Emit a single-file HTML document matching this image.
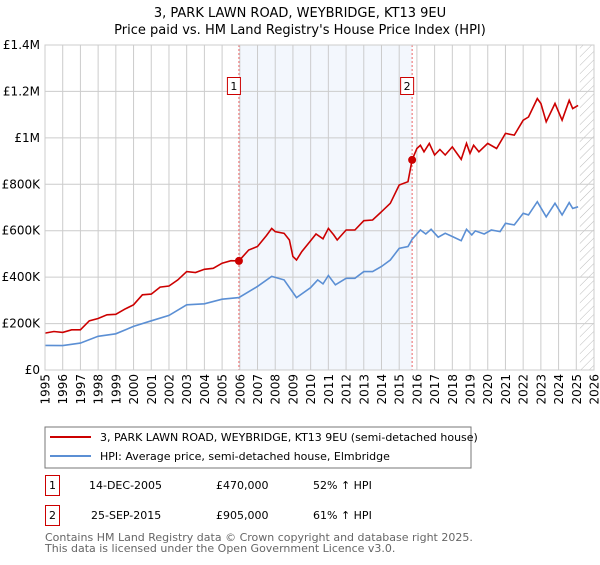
<!DOCTYPE html>
<html><head><meta charset="utf-8"><style>
body{margin:0;background:#fff;font-family:"Liberation Sans","DejaVu Sans",sans-serif}
svg text{font-family:"DejaVu Sans","Liberation Sans",sans-serif}
</style></head><body>
<svg width="600" height="560" xmlns="http://www.w3.org/2000/svg" id="svg">
<defs><pattern id="hatch" width="6" height="6" patternUnits="userSpaceOnUse" patternTransform="rotate(45)"><line x1="0" y1="0" x2="0" y2="6" stroke="#bbb" stroke-width="1"/></pattern></defs>
<text x="300" y="17" text-anchor="middle" font-size="13">3, PARK LAWN ROAD, WEYBRIDGE, KT13 9EU</text>
<text x="300" y="34" text-anchor="middle" font-size="13">Price paid vs. HM Land Registry's House Price Index (HPI)</text>
<g id="plot"></g>
<rect x="45" y="427" width="426" height="41" fill="#fff" stroke="#777"/>
<line x1="50" y1="437" x2="91" y2="437" stroke="#cc0000" stroke-width="2"/>
<text x="100" y="441" font-size="11">3, PARK LAWN ROAD, WEYBRIDGE, KT13 9EU (semi-detached house)</text>
<line x1="50" y1="456" x2="91" y2="456" stroke="#5b8fd4" stroke-width="2"/>
<text x="100" y="460" font-size="11">HPI: Average price, semi-detached house, Elmbridge</text>
<g font-size="11">
<rect x="45.5" y="475.5" width="14" height="20" fill="#fff" stroke="#cc0000"/><text x="52.5" y="489" text-anchor="middle">1</text>
<text x="89" y="489">14-DEC-2005</text><text x="216" y="489">£470,000</text><text x="313" y="489">52% ↑ HPI</text></g>
<g font-size="11">
<rect x="45.5" y="505.5" width="14" height="20" fill="#fff" stroke="#cc0000"/><text x="52.5" y="519" text-anchor="middle">2</text>
<text x="91" y="519">25-SEP-2015</text><text x="216" y="519">£905,000</text><text x="313" y="519">61% ↑ HPI</text></g>
<text x="45" y="541" font-size="11" fill="#666">Contains HM Land Registry data © Crown copyright and database right 2025.</text>
<text x="45" y="552" font-size="11" fill="#666">This data is licensed under the Open Government Licence v3.0.</text>
</svg>
<script>
const redT=[1995,1995.5,1996,1996.5,1997,1997.5,1998,1998.5,1999,1999.5,2000,2000.5,2001,2001.5,2002,2002.5,2003,2003.5,2004,2004.5,2005,2005.5,2005.95,2006.5,2007,2007.5,2007.8,2008,2008.5,2008.8,2009,2009.2,2009.5,2010,2010.3,2010.7,2011,2011.3,2011.5,2012,2012.5,2013,2013.5,2014,2014.5,2015,2015.5,2015.73,2016,2016.2,2016.4,2016.7,2017,2017.3,2017.6,2018,2018.5,2018.8,2019,2019.2,2019.5,2020,2020.5,2021,2021.5,2022,2022.3,2022.8,2023,2023.3,2023.8,2024.2,2024.6,2024.8,2025.1];
const redV=[159,166,162,173,173,212,222,238,240,262,281,324,327,357,362,388,424,420,434,438,460,471,470,517,532,579,610,596,589,560,489,474,510,557,586,565,610,582,560,603,603,643,646,682,718,797,811,905,954,968,940,976,926,950,926,961,907,976,933,968,940,976,954,1019,1012,1076,1090,1169,1148,1069,1148,1076,1162,1126,1140];
const hpiT=[1995,1996,1997,1998,1999,2000,2001,2002,2003,2004,2005,2005.95,2007,2007.8,2008.5,2009.2,2010,2010.4,2010.7,2011,2011.4,2012,2012.5,2013,2013.5,2014,2014.5,2015,2015.5,2015.73,2016.2,2016.5,2016.8,2017.2,2017.6,2018,2018.5,2018.8,2019.1,2019.3,2019.8,2020.2,2020.7,2021,2021.5,2022,2022.3,2022.8,2023.3,2023.8,2024.2,2024.6,2024.8,2025.1];
const hpiV=[106,105,116,145,156,188,212,235,281,285,305,312,360,403,388,312,355,388,371,407,367,395,395,424,424,446,474,524,532,563,603,586,606,572,589,575,557,606,582,599,586,603,596,632,625,675,668,725,660,718,668,721,696,703];
const saleT=[2005.95,2015.73];
const saleV=[470,905];
const saleLabels=["1","2"];
const yTicks=[0,200,400,600,800,1000,1200,1400];
const yTickLabels=["£0","£200K","£400K","£600K","£800K","£1M","£1.2M","£1.4M"];
const xYears=[];for(let y=1995;y<=2026;y++)xYears.push(y);
const L=45,R=594,T=45,B=370,x0=1995,x1=2026,yMax=1400;
const X=t=>L+(t-x0)/(x1-x0)*(R-L);
const Y=v=>B-v/yMax*(B-T);
const NS="http://www.w3.org/2000/svg",g=document.getElementById('plot');
function mk(tag,at,parent){const e=document.createElementNS(NS,tag);for(const k in at)e.setAttribute(k,at[k]);(parent||g).appendChild(e);return e;}
let e=mk('rect',{x:X(saleT[0]),y:T,width:X(saleT[1])-X(saleT[0]),height:B-T,fill:'#eef3fc',opacity:0.7});


e=mk('rect',{x:X(2025.2),y:T,width:R-X(2025.2),height:B-T,fill:'url(#hatch)'});


xYears.forEach(y=>{e=mk('line',{x1:X(y),x2:X(y),y1:T,y2:B,stroke:'#ccc'});


const tx=mk('text',{x:0,y:0,'font-size':12,'text-anchor':'end',transform:`translate(${X(y)+4.5},${B+4}) rotate(-90)`});tx.textContent=y;

});
yTicks.forEach((v,i)=>{e=mk('line',{x1:L,x2:R,y1:Y(v),y2:Y(v),stroke:'#ccc'});


const tx=mk('text',{x:L-5,y:Y(v)+4,'font-size':12,'text-anchor':'end'});tx.textContent=yTickLabels[i];

});
saleT.forEach(t=>{e=mk('line',{x1:X(t),x2:X(t),y1:T,y2:B,stroke:'#e66',"stroke-dasharray":'2,2'});

});
const pts=(ts,vs)=>ts.map((t,i)=>X(t).toFixed(1)+','+Y(vs[i]).toFixed(1)).join(' ');
e=mk('polyline',{points:pts(hpiT,hpiV),fill:'none',stroke:'#5b8fd4','stroke-width':1.6});


e=mk('polyline',{points:pts(redT,redV),fill:'none',stroke:'#cc0000','stroke-width':1.6});


saleT.forEach((t,i)=>{e=mk('circle',{cx:X(t),cy:Y(saleV[i]),r:4,fill:'#cc0000'});


const bx=mk('rect',{x:X(t)-11.5,y:77.5,width:13,height:17,fill:'#fff',stroke:'#cc0000'});


const tx=mk('text',{x:X(t)-5,y:90,'font-size':11,'text-anchor':'middle'});tx.textContent=saleLabels[i];

});
e=mk('rect',{x:L,y:T,width:R-L,height:B-T,fill:'none',stroke:'#ccc'});


</script>
</body></html>
